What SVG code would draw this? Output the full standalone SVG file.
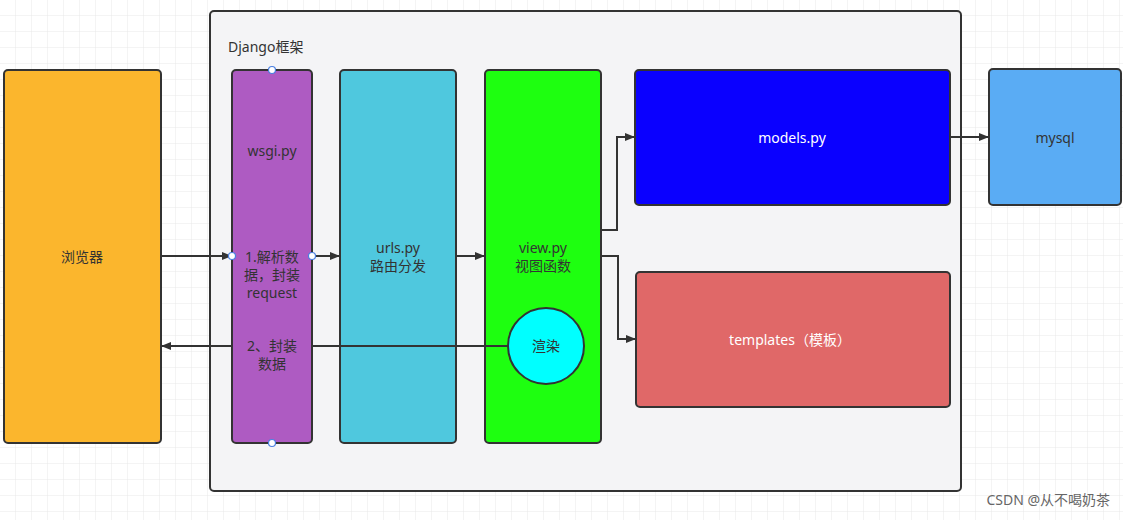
<svg xmlns="http://www.w3.org/2000/svg" width="1123" height="520" viewBox="0 0 1123 520">
<defs>
<pattern id="grid" width="16" height="16" patternUnits="userSpaceOnUse"><path d="M16 0V16M0 16H16" fill="none" stroke="#e8e8e8" stroke-width="1"/></pattern>
<marker id="ah" viewBox="0 0 10 10" refX="10" refY="5" markerWidth="5" markerHeight="5" orient="auto"><path d="M0 1L10 5L0 9z" fill="#333"/></marker>
<style>
.n{stroke:#333;stroke-width:2}
.t{font-family:"Noto Sans","Noto Sans CJK SC",sans-serif;font-size:14px;fill:#333;text-anchor:middle}
.w{fill:#fff}
.c{fill:none;stroke:#333;stroke-width:2;marker-end:url(#ah)}
.h{fill:#fff;stroke:#4a7fe0;stroke-width:1.2}
</style>
</defs>
<rect width="1123" height="520" fill="#fff"/>
<rect width="1123" height="520" fill="url(#grid)"/>
<g id="frame"><rect x="210" y="11" width="751" height="480" rx="4" fill="#F4F4F6" class="n"/><text x="228" y="52" class="t" style="text-anchor:start">Django框架</text></g>
<g id="browser"><rect x="4" y="70" width="157" height="373" rx="4" fill="#FBB62D" class="n"/><text x="82" y="262" class="t">浏览器</text></g>
<g id="urls"><rect x="340" y="70" width="116" height="373" rx="4" fill="#4FC8DE" class="n"/><text x="398" y="253" class="t">urls.py</text><text x="398" y="271" class="t">路由分发</text></g>
<g id="view"><rect x="485" y="70" width="116" height="373" rx="4" fill="#1EFF10" class="n"/><text x="543" y="253" class="t">view.py</text><text x="543" y="271" class="t">视图函数</text></g>
<g id="connectors">
<path class="c" d="M161 256H232"/>
<path class="c" d="M312 256H340"/>
<path class="c" d="M456 256H485"/>
<path class="c" d="M601 230H617V137H635"/>
<path class="c" d="M601 256H618V339H636"/>
<path class="c" d="M950 137H989"/>
<path fill="none" stroke="#333" stroke-width="2" d="M508 346H312"/>
<path class="c" d="M232 346H161"/>
</g>
<g id="wsgi"><rect x="232" y="70" width="80" height="373" rx="4" fill="#AE5BC2" class="n"/><text x="272" y="156" class="t">wsgi.py</text><text x="272" y="262" class="t">1.解析数</text><text x="272" y="280" class="t">据，封装</text><text x="272" y="298" class="t">request</text><text x="272" y="351" class="t">2、封装</text><text x="272" y="369" class="t">数据</text>
<circle cx="272" cy="70" r="3.5" class="h"/><circle cx="232" cy="256" r="3.5" class="h"/><circle cx="312" cy="256" r="3.5" class="h"/><circle cx="272" cy="443" r="3.5" class="h"/></g>
<g id="render"><circle cx="546" cy="346" r="38" fill="#00FFFF" class="n"/><text x="546" y="351" class="t">渲染</text></g>
<g id="models"><rect x="635" y="70" width="315" height="135" rx="4" fill="#0A00FF" class="n"/><text x="792" y="143" class="t w">models.py</text></g>
<g id="templates"><rect x="636" y="272" width="314" height="135" rx="4" fill="#E06868" class="n"/><text x="790" y="345" class="t w">templates（模板）</text></g>
<g id="mysql"><rect x="989" y="69" width="132" height="136" rx="4" fill="#5AACF4" class="n"/><text x="1055" y="143" class="t">mysql</text></g>
<text x="1110" y="505" style="font-family:'Noto Sans','Noto Sans CJK SC',sans-serif;font-size:14px;fill:#666;text-anchor:end">CSDN @从不喝奶茶</text>
</svg>
